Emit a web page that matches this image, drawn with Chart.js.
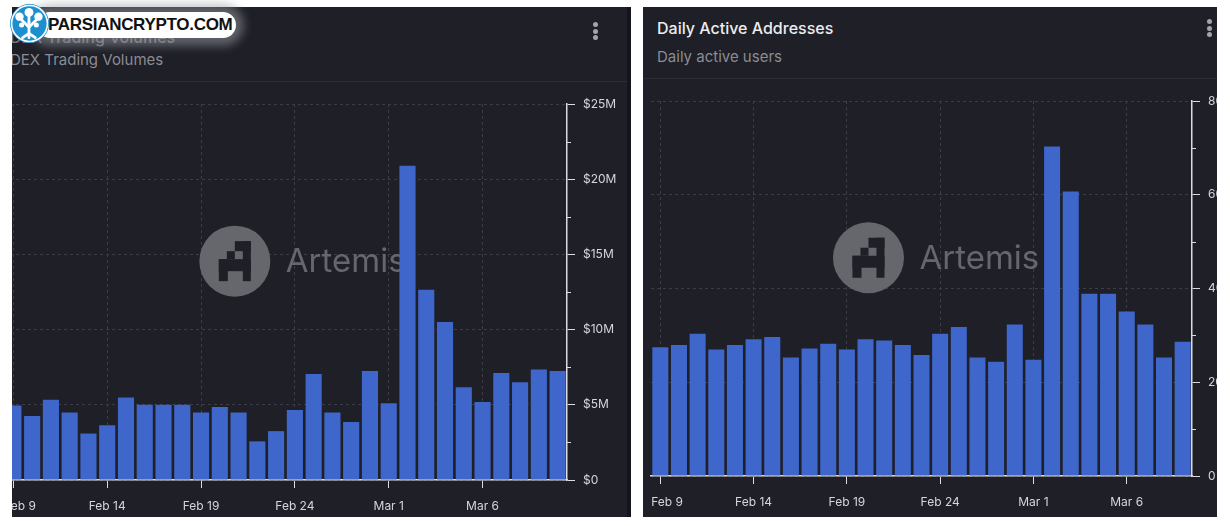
<!DOCTYPE html>
<html>
<head>
<meta charset="utf-8">
<script src="https://cdn.jsdelivr.net/npm/chart.js@4.4.1/dist/chart.umd.min.js"></script>
<style>
  html, body { margin: 0; padding: 0; background: #fff; width: 1230px; height: 526px; overflow: hidden; }
  body { position: relative; font-family: Inter, 'Noto Sans', sans-serif; }
  .panel { position: absolute; background: #1e1f27; overflow: hidden; }
  .panel canvas { position: absolute; }
  .title { position: absolute; color: #ececef; font-size: 16px; font-weight: 500; white-space: nowrap; line-height: 20px; }
  .sub { position: absolute; color: #8b8c94; font-size: 15px; white-space: nowrap; line-height: 20px; }
  .sep { position: absolute; left: 0; right: 0; height: 1px; background: #2b2c36; }
  .kebab { position: absolute; width: 5px; }
  .kebab i { display: block; width: 5px; height: 5px; border-radius: 50%; background: #a3a4ab; margin-bottom: 1.6px; }
  #logo { position: absolute; left: 0; top: 0; }
  #pill { position: absolute; left: 37px; top: 12px; width: 199px; height: 26px; border-radius: 13px; background: #fff;
          box-shadow: 0 0 10px 8px rgba(150,151,158,0.55); font: bold 17px 'Liberation Sans', Arial, sans-serif;
          color: #111; line-height: 26px; padding-left: 11px; box-sizing: border-box; letter-spacing: -0.3px; }
  #badge { position: absolute; left: 10px; top: 4px; width: 39px; height: 39px; border-radius: 50%; background: #1b8fcf; }
</style>
</head>
<body>

<div class="panel" id="left" style="left:12px; top:7px; width:615px; height:510px; border-right:4px solid #14151a;">
  <div class="title" style="left:-2px; top:20px; color:#74757c;">DEX Trading Volumes</div>
  <div class="sub" style="left:-2px; top:43px;">DEX Trading Volumes</div>
  <div class="kebab" style="left:581px; top:15px;"><i></i><i></i><i></i></div>
  <div class="sep" style="top:74px;"></div>
  <canvas id="dexChart" width="623" height="430" style="left:-8px; top:83px;"></canvas>
</div>

<div class="panel" id="right" style="left:643px; top:7px; width:574px; height:510px;">
  <div class="title" style="left:14px; top:11px;">Daily Active Addresses</div>
  <div class="sub" style="left:14px; top:40px;">Daily active users</div>
  <div class="kebab" style="left:564px; top:12px;"><i></i><i></i><i></i></div>
  <div class="sep" style="top:71px;"></div>
  <canvas id="dauChart" width="611" height="429" style="left:-2px; top:80px;"></canvas>
</div>

<div id="logo">
  <div id="pill">PARSIANCRYPTO.COM</div>
  <div id="badge">
    <svg width="39" height="39" viewBox="0 0 37 37">
      <circle cx="18.5" cy="18.5" r="17" fill="none" stroke="#fff" stroke-width="1.5"/>
      <g stroke="#fff" stroke-width="2.6" stroke-linecap="round" fill="none">
        <path d="M18 32 L18 17"/>
        <path d="M18 22 L10 14"/>
        <path d="M18 22 L26 14"/>
        <path d="M18 18 L18 10"/>
        <path d="M18 28 L12 32 M18 28 L24 32"/>
      </g>
      <g fill="#fff">
        <circle cx="9" cy="12" r="4"/>
        <circle cx="27" cy="12" r="4"/>
        <circle cx="18" cy="8" r="4.2"/>
        <circle cx="11" cy="20" r="2.4"/>
        <circle cx="25" cy="20" r="2.4"/>
      </g>
    </svg>
  </div>
</div>

<script>
// ---- data ----
const dexDates = ['Feb 9','Feb 10','Feb 11','Feb 12','Feb 13','Feb 14','Feb 15','Feb 16','Feb 17','Feb 18',
  'Feb 19','Feb 20','Feb 21','Feb 22','Feb 23','Feb 24','Feb 25','Feb 26','Feb 27','Feb 28',
  'Mar 1','Mar 2','Mar 3','Mar 4','Mar 5','Mar 6','Mar 7','Mar 8','Mar 9','Mar 10'];
// DEX volume, $ millions
const dexVolumes = [4.95, 4.25, 5.34, 4.48, 3.09, 3.64, 5.48, 5.0, 5.0, 5.0,
  4.48, 4.86, 4.48, 2.57, 3.25, 4.66, 7.05, 4.48, 3.86, 7.25,
  5.11, 20.9, 12.65, 10.5, 6.16, 5.18, 7.11, 6.5, 7.34, 7.25];

const dauDates = dexDates.slice(0, 29);
// daily active addresses, thousands
const dauValues = [27.45, 27.94, 30.35, 27.0, 27.94, 29.15, 29.65, 25.3, 27.2, 28.2,
  27.0, 29.15, 28.9, 27.94, 25.8, 30.35, 31.8, 25.3, 24.4, 32.3,
  24.8, 70.3, 60.7, 38.9, 38.9, 35.1, 32.3, 25.3, 28.65];

const dexTicks = [0, 5, 10, 15, 20, 25];
const dauTicks = [0, 20, 40, 60, 80];

const BAR = '#3e66cb';
const GRID = '#3c3d49';
const AXIS = '#dcdce0';
const TICKTXT = '#d6d6da';

// Artemis watermark + short minor tick marks on the value axis
const extras = {
  id: 'extras',
  beforeDatasetsDraw(chart, args, opts) {
    const {ctx, chartArea: a} = chart;
    const cx = a.left + opts.wx * (a.right - a.left);
    const cy = a.top + opts.wy * (a.bottom - a.top);
    ctx.save();
    ctx.fillStyle = '#66666d';
    ctx.beginPath();
    ctx.arc(cx, cy, 35.5, 0, Math.PI * 2);
    ctx.fill();
    // pixel "A" glyph
    ctx.fillStyle = '#1e1f27';
    const gx = cx - 16, gy = cy - 20;
    [[16,0,16,10],[24,0,8,40],[8,10,8,8],[0,18,32,12],[0,18,9,22]].forEach(r => {
      ctx.fillRect(gx + r[0], gy + r[1], r[2], r[3]);
    });
    ctx.fillStyle = '#66666d';
    ctx.font = '400 33px Inter, sans-serif';
    ctx.textBaseline = 'middle';
    ctx.fillText('Artemis', cx + 51, cy + 1);
    ctx.restore();
  },
  afterDraw(chart, args, opts) {
    const {ctx, chartArea: a} = chart;
    const y = chart.scales.y;
    ctx.save();
    ctx.strokeStyle = AXIS;
    ctx.lineWidth = 1;
    opts.minor.forEach(v => {
      const py = Math.round(y.getPixelForValue(v)) + 0.5;
      ctx.beginPath();
      ctx.moveTo(a.right, py);
      ctx.lineTo(a.right + 4, py);
      ctx.stroke();
    });
    ctx.restore();
  }
};

function makeChart(id, labels, values, ticks, fmt, minor, wx, wy, padLeft) {
  const top = ticks[ticks.length - 1];
  return new Chart(document.getElementById(id), {
    type: 'bar',
    data: {
      labels: labels,
      datasets: [{ data: values, backgroundColor: BAR, barPercentage: 0.86, categoryPercentage: 1.0 }]
    },
    options: {
      responsive: false,
      animation: false,
      layout: { padding: { top: 14, left: padLeft, right: 0, bottom: 0 } },
      plugins: { legend: { display: false }, tooltip: { enabled: false }, extras: { minor: minor, wx: wx, wy: wy } },
      scales: {
        x: {
          grid: {
            offset: false,
            color: c => (c.tick && c.tick.value % 5 === 0) ? GRID : 'rgba(0,0,0,0)',
            tickColor: c => (c.tick && c.tick.value % 5 === 0) ? AXIS : 'rgba(0,0,0,0)',
            tickLength: 8
          },
          border: { color: AXIS, width: 1.5, dash: [3, 3] },
          ticks: {
            autoSkip: false, maxRotation: 0, padding: 11, color: TICKTXT,
            font: { family: 'Inter', size: 12 },
            // first label is pushed inside the plot, like the original
            callback: (v, i) => i === 0 ? '    ' + labels[0] : (i % 5 === 0 ? labels[i] : '')
          },
          afterFit: s => { s.height = 40; s.paddingLeft = 0; s.paddingRight = 0; }
        },
        y: {
          position: 'right',
          min: 0, max: top,
          afterBuildTicks: s => { s.ticks = ticks.map(v => ({ value: v })); },
          grid: { color: GRID, tickColor: AXIS, tickLength: 8 },
          border: { color: AXIS, width: 1.5, dash: [3, 3] },
          ticks: { padding: 8, color: TICKTXT, font: { family: 'Inter', size: 12 }, callback: fmt },
          afterFit: s => { s.width = 60; s.paddingTop = 0; s.paddingBottom = 0; }
        }
      }
    },
    plugins: [extras]
  });
}

makeChart('dexChart', dexDates, dexVolumes, dexTicks, v => v === 0 ? '$0' : '$' + v + 'M', [2.5, 7.5, 12.5, 17.5, 22.5], 0.41, 0.418, 0);
makeChart('dauChart', dauDates, dauValues, dauTicks, v => v === 0 ? '0' : v + 'K', [10, 30, 50, 70], 0.402, 0.418, 10);
</script>
</body>
</html>
